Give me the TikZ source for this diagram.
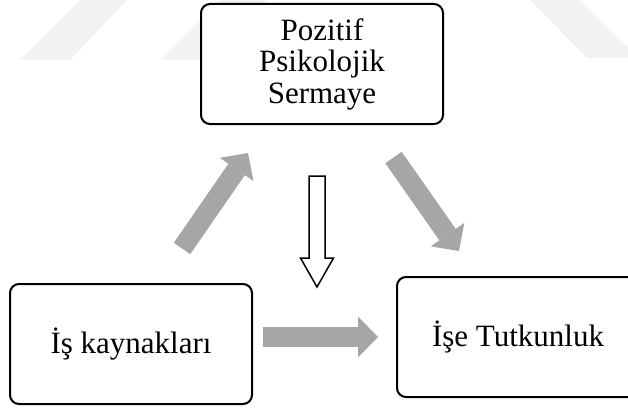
\documentclass[tikz,border=0pt]{standalone}
\usepackage{fontspec}
\setmainfont{Liberation Serif}
\usetikzlibrary{arrows.meta}
\definecolor{arrowgray}{RGB}{166,166,166}
\definecolor{markgray}{RGB}{242,242,242}
\begin{document}
\begin{tikzpicture}[x=1pt, y=-1pt,
    kutu/.style={draw, line width=2pt, rounded corners=9pt, fill=white,
      minimum width=242pt, minimum height=120pt, align=center, inner sep=0pt,
      font=\fontsize{31}{31.5}\selectfont},
    griok/.style={draw=arrowgray, line width=20pt,
      -{Triangle[width=41pt, length=20pt, line width=0pt]}},
    bosok/.style={draw, line width=1.5pt, fill=white}]
  \path[use as bounding box, clip] (0,0) rectangle (628,409);
  % soluk zemin izi
  \fill[markgray] (20,60) -- (80,0) -- (127,0) -- (70,60) -- cycle;
  \fill[markgray] (160,60) -- (220,0) -- (267,0) -- (210,60) -- cycle;
  \fill[markgray] (530,0) -- (580,0) -- (638,58) -- (587,58) -- cycle;
  % kutular
  \node[kutu] (pps) at (322,64) {Pozitif\\Psikolojik\\Sermaye};
  \node[kutu] (ik) at (131,344) {İş kaynakları};
  \node[kutu] (it) at (518,337) {İşe Tutkunluk};
  % oklar
  \coordinate (ikUst) at (182,248.5);
  \coordinate (ppsSol) at (248,153);
  \coordinate (ppsSag) at (393.5,157.5);
  \coordinate (itUst) at (459,251);
  \coordinate (ikSag) at (263,337);
  \coordinate (itSol) at (378,337);
  \coordinate (ppsAlt) at (317,176);
  \draw[griok] (ikUst) -- (ppsSol);
  \draw[griok] (ppsSag) -- (itUst);
  \draw[griok] (ikSag) -- (itSol);
  \draw[bosok] (ppsAlt) +(-8,0) -- +(-8,82) -- +(-16.5,82) -- +(0,111)
    -- +(16.5,82) -- +(8,82) -- +(8,0) -- cycle;
\end{tikzpicture}
\end{document}
